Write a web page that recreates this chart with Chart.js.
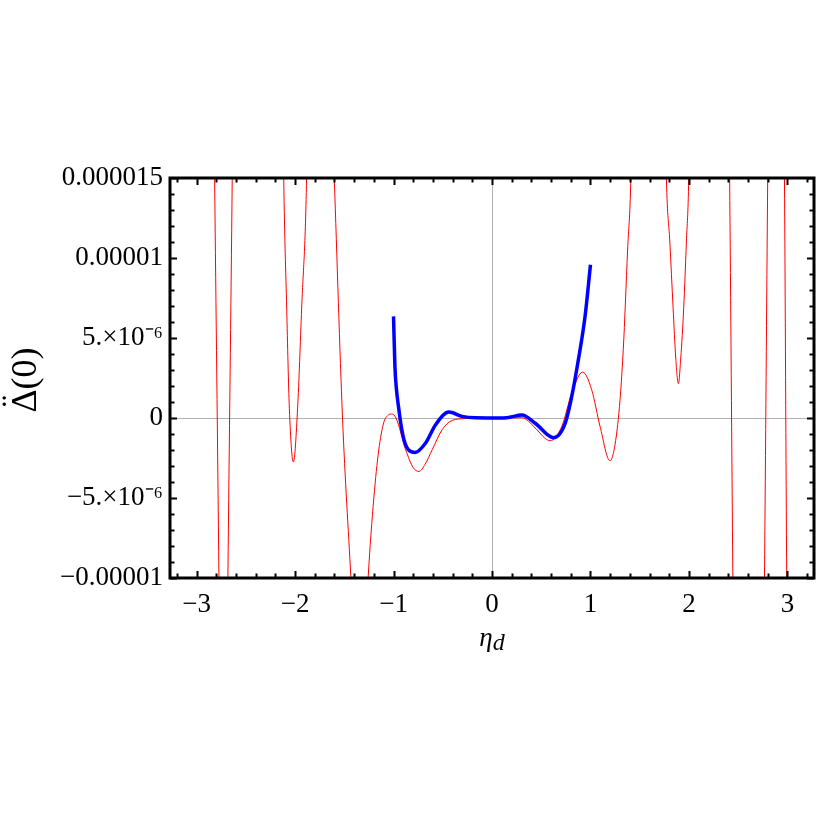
<!DOCTYPE html>
<html>
<head>
<meta charset="utf-8">
<script src="https://cdn.jsdelivr.net/npm/chart.js@4.4.1/dist/chart.umd.min.js"></script>
<style>
  html, body { margin: 0; padding: 0; background: #fff; }
  canvas { display: block; }
</style>
</head>
<body>
<canvas id="chart" width="817" height="817"></canvas>
<script>
// values; y in units of 1e-6
var MICRO = 1e-6;

// thin red curve (points outside the frame are only there to steer the line off-screen)
var redX = [-3.35, -2.86, -2.817, -2.773, -2.727, -2.682, -2.638, -2.60, -2.37, -2.15,
  -2.115, -2.085, -2.058, -2.017, -1.974, -1.933, -1.883, -1.85, -1.745, -1.66,
  -1.602, -1.518, -1.433, -1.40, -1.345, -1.29, -1.258, -1.20, -1.15, -1.10,
  -1.06, -1.02, -0.975, -0.877, -0.80, -0.742, -0.68, -0.607, -0.506, -0.405,
  -0.27, -0.10, 0, 0.15, 0.30, 0.371, 0.439, 0.591, 0.709, 0.81,
  0.921, 1.012, 1.097, 1.198, 1.282, 1.333, 1.377, 1.41, 1.45, 1.59,
  1.73, 1.771, 1.806, 1.839, 1.866, 1.893, 1.917, 1.947, 1.974, 1.998,
  2.04, 2.2, 2.37, 2.413, 2.446, 2.49, 2.6, 2.72, 2.767, 2.80,
  2.84, 2.885, 2.93, 2.97, 2.993, 3.04, 3.35];
var redY = [300, 40, 15, -10, -40, -10, 15, 40, 120, 35,
  15, 6.87, 0.62, -2.75, 0.62, 6.87, 15, 30, 55, 25,
  15, 0, -10, -14, -18, -14, -10, -5.0, -2.0, -0.3,
  0.15, 0.25, 0, -1.98, -3.1, -3.34, -2.9, -1.98, -0.73, -0.15,
  -0.04, -0.01, 0, 0, 0.02, -0.2, -0.63, -1.42, -0.52, 1.56,
  2.87, 1.77, -0.52, -2.67, -0.1, 4.27, 10.5, 15, 30, 60,
  30, 15, 11.0, 6.9, 3.75, 2.14, 3.75, 6.9, 11.0, 15,
  35, 110, 40, 15, -10, -40, -110, -40, -10, 15,
  40, 60, 40, 15, -10, -40, -300];

// thick blue curve on [-1, 1]
var blueX = [-1.0, -0.986, -0.97, -0.95, -0.927, -0.894, -0.85, -0.782, -0.674, -0.573,
  -0.438, -0.304, -0.17, 0, 0.15, 0.304, 0.439, 0.625, 0.743, 0.81,
  0.877, 0.945, 1.0];
var blueY = [6.35, 3.23, 1.77, 0.73, -0.31, -1.36, -1.98, -2.15, -1.56, -0.42,
  0.37, 0.1, 0.01, 0, 0.02, 0.18, -0.33, -1.23, -0.33, 1.35,
  3.64, 6.35, 9.58];

var xMin = -3.27, xMax = 3.27;
var yMin = -1e-5, yMax = 1.5e-5;
var xTicks = [-3, -2, -1, 0, 1, 2, 3];
var yTicks = [-1e-5, -5e-6, 0, 5e-6, 1e-5, 1.5e-5];
var yTickLabels = ["\u22120.00001", "\u22125.\u00d710\u207b\u2076", "0", "5.\u00d710\u207b\u2076", "0.00001", "0.000015"];
var xMinorStep = 0.2, yMinorStep = 1e-6;
var xTitle = ["\u03b7", "d"];
var yTitle = ["\u0394", "(0)"];

var SERIF = "'Liberation Serif', 'Times New Roman', serif";

function pts(xs, ys) {
  return xs.map(function (x, i) { return { x: x, y: ys[i] * MICRO }; });
}

function fmtX(v) {
  return v < 0 ? "\u2212" + Math.abs(v) : String(v);
}

// frame, inward ticks and axis titles (Mathematica-style)
var framePlugin = {
  id: "frame",
  afterDraw: function (chart) {
    var c = chart.ctx, a = chart.chartArea;
    var xs = chart.scales.x, ys = chart.scales.y;
    c.save();
    c.strokeStyle = "#000";
    c.lineWidth = 2;
    var i, v, p, len;
    for (i = Math.ceil(xMin / xMinorStep); i * xMinorStep <= xMax; i++) {
      v = i * xMinorStep;
      p = Math.round(xs.getPixelForValue(v)) + 0.5;
      len = Math.abs(v - Math.round(v)) < 1e-9 ? 7 : 4.5;
      c.beginPath();
      c.moveTo(p, a.bottom); c.lineTo(p, a.bottom - len);
      c.moveTo(p, a.top); c.lineTo(p, a.top + len);
      c.stroke();
    }
    for (i = Math.ceil(yMin / yMinorStep - 1e-9); i * yMinorStep <= yMax + 1e-12; i++) {
      v = i * yMinorStep;
      p = Math.round(ys.getPixelForValue(v)) + 0.5;
      len = (i % 5 === 0) ? 7 : 4.5;
      c.beginPath();
      c.moveTo(a.left, p); c.lineTo(a.left + len, p);
      c.moveTo(a.right, p); c.lineTo(a.right - len, p);
      c.stroke();
    }
    c.lineWidth = 3;
    c.strokeRect(a.left, a.top, a.right - a.left, a.bottom - a.top);

    // x title: eta with subscript d
    c.fillStyle = "#000";
    c.textBaseline = "alphabetic";
    c.font = "italic 27px " + SERIF;
    var w1 = c.measureText(xTitle[0]).width;
    c.font = "italic 24px " + SERIF;
    var w2 = c.measureText(xTitle[1]).width;
    var x0 = xs.getPixelForValue(0) - (w1 + w2) / 2;
    c.font = "italic 27px " + SERIF;
    c.fillText(xTitle[0], x0, 646);
    c.font = "italic 24px " + SERIF;
    c.fillText(xTitle[1], x0 + w1, 650);

    // y title: Delta with double dot, then (0), rotated
    c.translate(36, (a.top + a.bottom) / 2 + 2);
    c.rotate(-Math.PI / 2);
    c.font = "36px " + SERIF;
    var wd = c.measureText(yTitle[0]).width;
    var wr = c.measureText(yTitle[1]).width;
    var sx = -(wd + wr) / 2;
    c.fillText(yTitle[0], sx, 0);
    c.fillText(yTitle[1], sx + wd, 0);
    c.textAlign = "center";
    c.fillText("\u00a8", sx + wd / 2, -11);
    c.restore();
  }
};

new Chart(document.getElementById("chart"), {
  type: "line",
  data: {
    datasets: [
      {
        data: pts(blueX, blueY),
        borderColor: "#0000ff",
        borderWidth: 3.5,
        pointRadius: 0,
        fill: false,
        cubicInterpolationMode: "monotone"
      },
      {
        data: pts(redX, redY),
        borderColor: "#ff0000",
        borderWidth: 1,
        pointRadius: 0,
        fill: false,
        cubicInterpolationMode: "monotone"
      }
    ]
  },
  options: {
    responsive: false,
    animation: false,
    devicePixelRatio: 1,
    layout: { padding: { top: 178, right: 3, left: 0, bottom: 0 } },
    plugins: { legend: { display: false }, tooltip: { enabled: false } },
    scales: {
      x: {
        type: "linear",
        min: xMin,
        max: xMax,
        afterBuildTicks: function (s) { s.ticks = xTicks.map(function (v) { return { value: v }; }); },
        afterFit: function (s) { s.height = 239; },
        ticks: {
          autoSkip: false,
          maxRotation: 0,
          padding: 11,
          color: "#000",
          font: { family: SERIF, size: 27 },
          callback: function (v) { return fmtX(v); }
        },
        grid: {
          drawTicks: false,
          lineWidth: 1,
          color: function (ctx) { return ctx.tick && ctx.tick.value === 0 ? "#b0b0b0" : "rgba(0,0,0,0)"; }
        },
        border: { display: false }
      },
      y: {
        type: "linear",
        min: yMin,
        max: yMax,
        afterBuildTicks: function (s) { s.ticks = yTicks.map(function (v) { return { value: v }; }); },
        afterFit: function (s) { s.width = 170; },
        ticks: {
          autoSkip: false,
          padding: 7,
          color: "#000",
          font: { family: SERIF, size: 27 },
          callback: function (v, i) { return yTickLabels[i]; }
        },
        grid: {
          drawTicks: false,
          lineWidth: 1,
          color: function (ctx) { return ctx.tick && ctx.tick.value === 0 ? "#b0b0b0" : "rgba(0,0,0,0)"; }
        },
        border: { display: false }
      }
    }
  },
  plugins: [framePlugin]
});
</script>
</body>
</html>
